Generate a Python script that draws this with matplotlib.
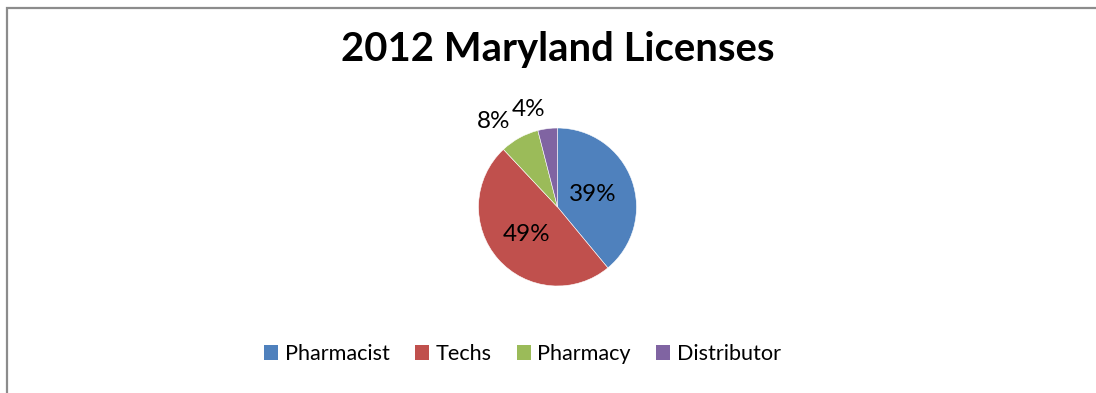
import matplotlib
matplotlib.use("Agg")
import matplotlib.pyplot as plt
import numpy as np
from matplotlib.patches import Patch, Rectangle

title = "2012 Maryland Licenses"
categories = ["Pharmacist", "Techs", "Pharmacy", "Distributor"]
values = [39, 49, 8, 4]
colors = ["#4F81BD", "#C0504D", "#9BBB59", "#8064A2"]

plt.rcParams['font.family'] = ['Lato', 'DejaVu Sans']

W, H = 1096, 393
fig = plt.figure(figsize=(W / 100, H / 100), dpi=100)

# border frame (only top and left edges fall inside the image)
fig.add_artist(Rectangle((7 / W, -0.2), 1.2, 1.2 - 7.5 / H, transform=fig.transFigure,
                         facecolor="none", edgecolor="#8c8c8c", lw=1.6))

fig.text(558 / W, 1 - 49 / H, title, ha="center", va="center",
         fontsize=28.8, fontweight="bold", color="black")

cx, cy, r = 557.5, 207, 79
ax = fig.add_axes([(cx - r) / W, (H - cy - r) / H, 2 * r / W, 2 * r / H])
wedges, _ = ax.pie(values, colors=colors, startangle=90, counterclock=False,
                   radius=1, wedgeprops=dict(edgecolor="white", linewidth=0.4))
ax.set_xlim(-1, 1)
ax.set_ylim(-1, 1)
ax.set_aspect("equal")
ax.axis("off")

total = sum(values)
cum = 0
label_r = [0.47, 0.52, 1.24, 1.24]
for v, lr in zip(values, label_r):
    mid = 90 - (cum + v / 2) / total * 360
    cum += v
    x, y = lr * np.cos(np.radians(mid)), lr * np.sin(np.radians(mid))
    ha = "center" if lr < 1 else "right"
    ax.text(x, y, f"{v / total * 100:.0f}%", ha=ha, va="center",
            fontsize=17.5, color="black", clip_on=False)

handles = [Patch(facecolor=c, edgecolor="none") for c in colors]
fig.legend(handles, categories, loc="center", ncol=4,
           bbox_to_anchor=(522.5 / W, 1 - 354 / H), frameon=False,
           fontsize=15.6, handlelength=0.64, handleheight=0.64,
           handletextpad=0.32, columnspacing=1.15)

fig.savefig("out.png", dpi=100)
